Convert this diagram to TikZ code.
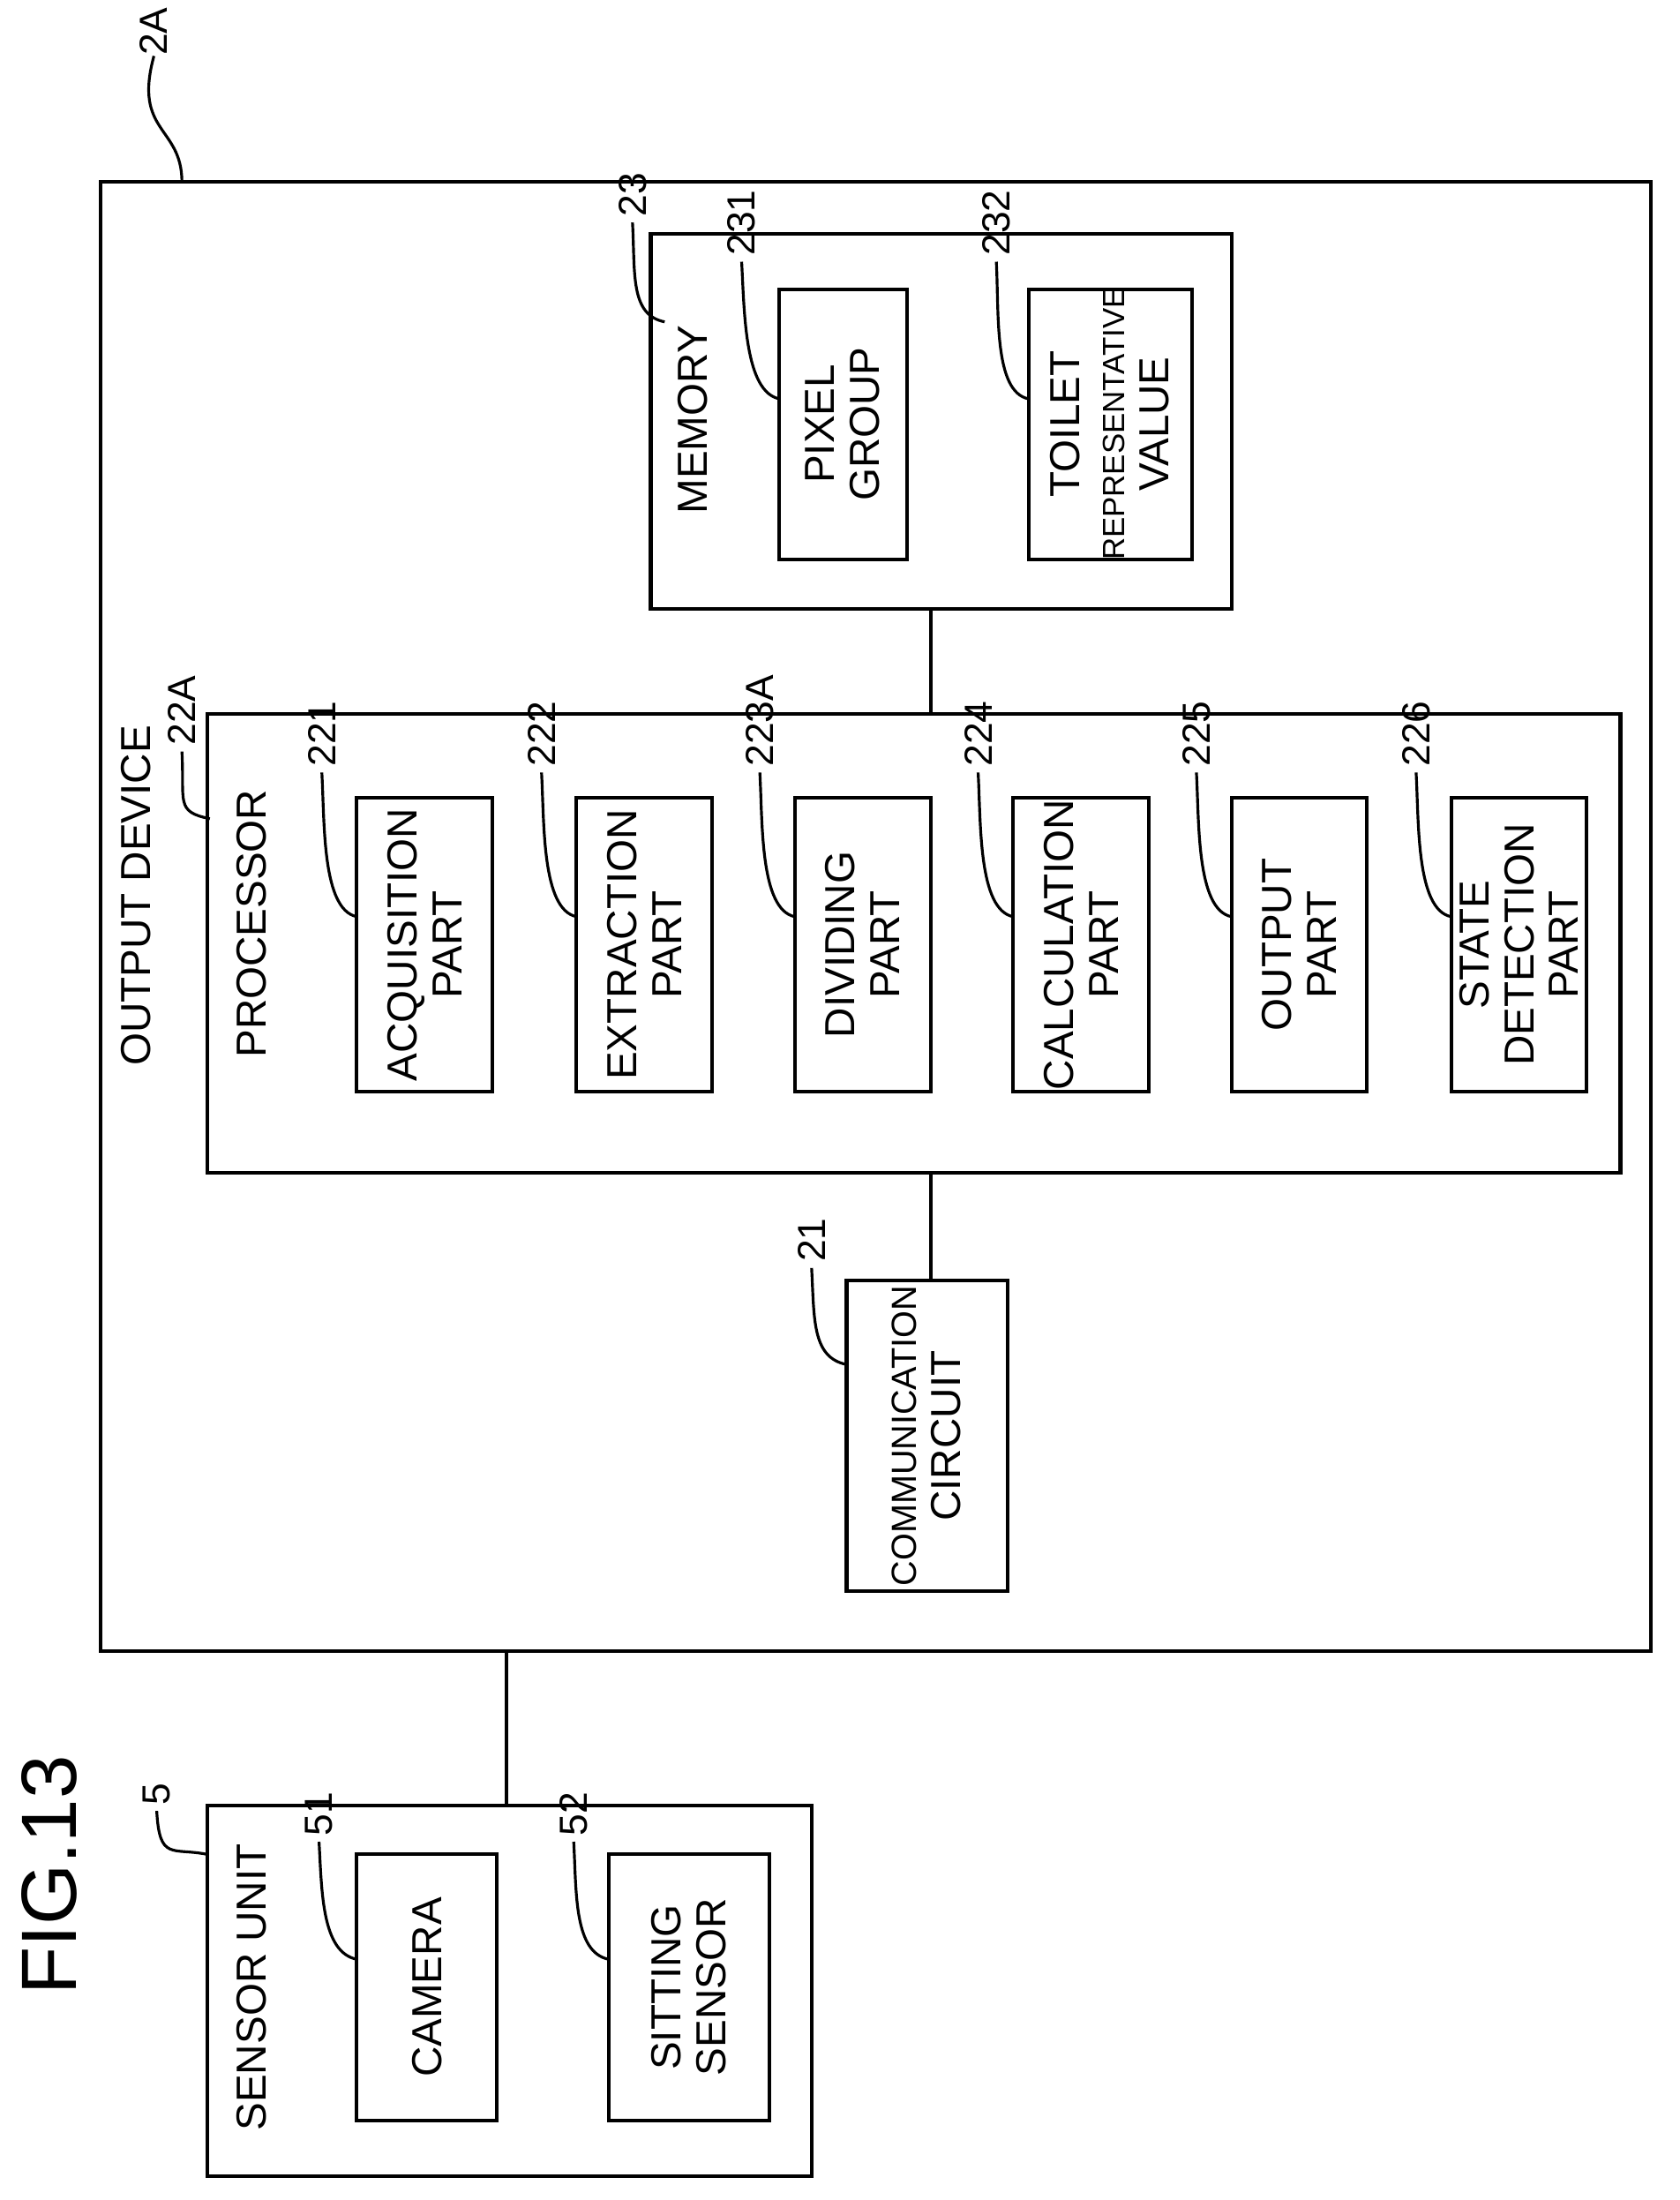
\documentclass[tikz,border=0pt]{standalone}
\usepackage{fontspec}
\setmainfont{Liberation Sans}
\usetikzlibrary{fit}
\begin{document}
\begin{tikzpicture}[x=0.5pt,y=-0.5pt,
 box/.style={draw,line width=1.3pt,inner sep=0pt},
 txt/.style={rotate=90,align=center,font=\fontsize{15}{16}\selectfont,inner sep=0pt},
 num/.style={rotate=90,anchor=west,font=\fontsize{14}{15}\selectfont,inner sep=0pt},
 lead/.style={line width=1pt}]
\useasboundingbox (0,0) rectangle (1200,1572);
\newcommand{\ldr}[5]{% name, number x,y, target x,y
 \node[num] (#1) at (#2,#3) {#1};
 \draw[lead] (#2,#3+4) .. controls (#2+2,#3+40) and (#4-25,#5-5) .. (#4,#5);}
% outer
\node[box,fit={(72,130)(1180,1180)}] (dev) {};
\node[num] (n2A) at (110,40) {2A};
\draw[lead] (n2A.west) .. controls (95,95) and (130,90) .. (130,130);
\node[txt,anchor=south] (tdev) at (108,640) {OUTPUT DEVICE};
% memory
\node[box,fit={(465,167)(880,435)}] (mem) {};
\node[txt] (tmem) at (495,300) {MEMORY};
\ldr{23}{452}{155}{475}{230}
\node[box,fit={(557,207)(648,400)}] (pix) {};
\node[txt] (tpix) at (602,303) {PIXEL\\GROUP};
\ldr{231}{530}{183}{557}{285}
\node[box,fit={(735,207)(852,400)}] (toi) {};
\node[txt] (ttoi) at (793,303) {TOILET\\{\fontsize{11}{13}\selectfont REPRESENTATIVE}\\VALUE};
\ldr{232}{712}{183}{735}{285}
% processor
\node[box,fit={(148,510)(1158,838)}] (proc) {};
\node[txt] (tproc) at (180,660) {PROCESSOR};
\ldr{22A}{130}{533}{150}{585}
\foreach \nm/\x/\t in {221/255/ACQUISITION\\PART,222/412/EXTRACTION\\PART,223A/568/DIVIDING\\PART,224/724/CALCULATION\\PART,225/880/OUTPUT\\PART,226/1037/STATE\\DETECTION\\PART}{
 \node[box,fit={(\x,570)(\x+97,780)}] (b\nm) {};
 \node[txt] at (\x+48.5,675) {\t};
 \ldr{\nm}{\x-25}{548}{\x}{655}
}
% comm
\node[box,fit={(605,915)(720,1137)}] (comm) {};
\node[txt] (tcomm) at (662,1026) {{\fontsize{12.5}{14}\selectfont COMMUNICATION}\\CIRCUIT};
\ldr{21}{580}{902}{605}{975}
\draw[line width=1.3pt] (665,435) -- (665,510);
\draw[line width=1.3pt] (665,838) -- (665,915);
\draw[line width=1.3pt] (362,1180) -- (362,1290);
% sensor
\node[box,fit={(148,1290)(580,1555)}] (sens) {};
\node[txt] (tsens) at (180,1420) {SENSOR UNIT};
\ldr{5}{112}{1290}{148}{1325}
\node[box,fit={(255,1325)(355,1515)}] (cam) {};
\node[txt] (tcam) at (305,1420) {CAMERA};
\ldr{51}{228}{1312}{255}{1400}
\node[box,fit={(435,1325)(550,1515)}] (sit) {};
\node[txt] (tsit) at (492,1420) {SITTING\\SENSOR};
\ldr{52}{410}{1312}{435}{1400}
\node[rotate=90,font=\fontsize{28}{30}\selectfont,inner sep=0pt] (fig) at (35,1340) {FIG.13};
\end{tikzpicture}
\end{document}
